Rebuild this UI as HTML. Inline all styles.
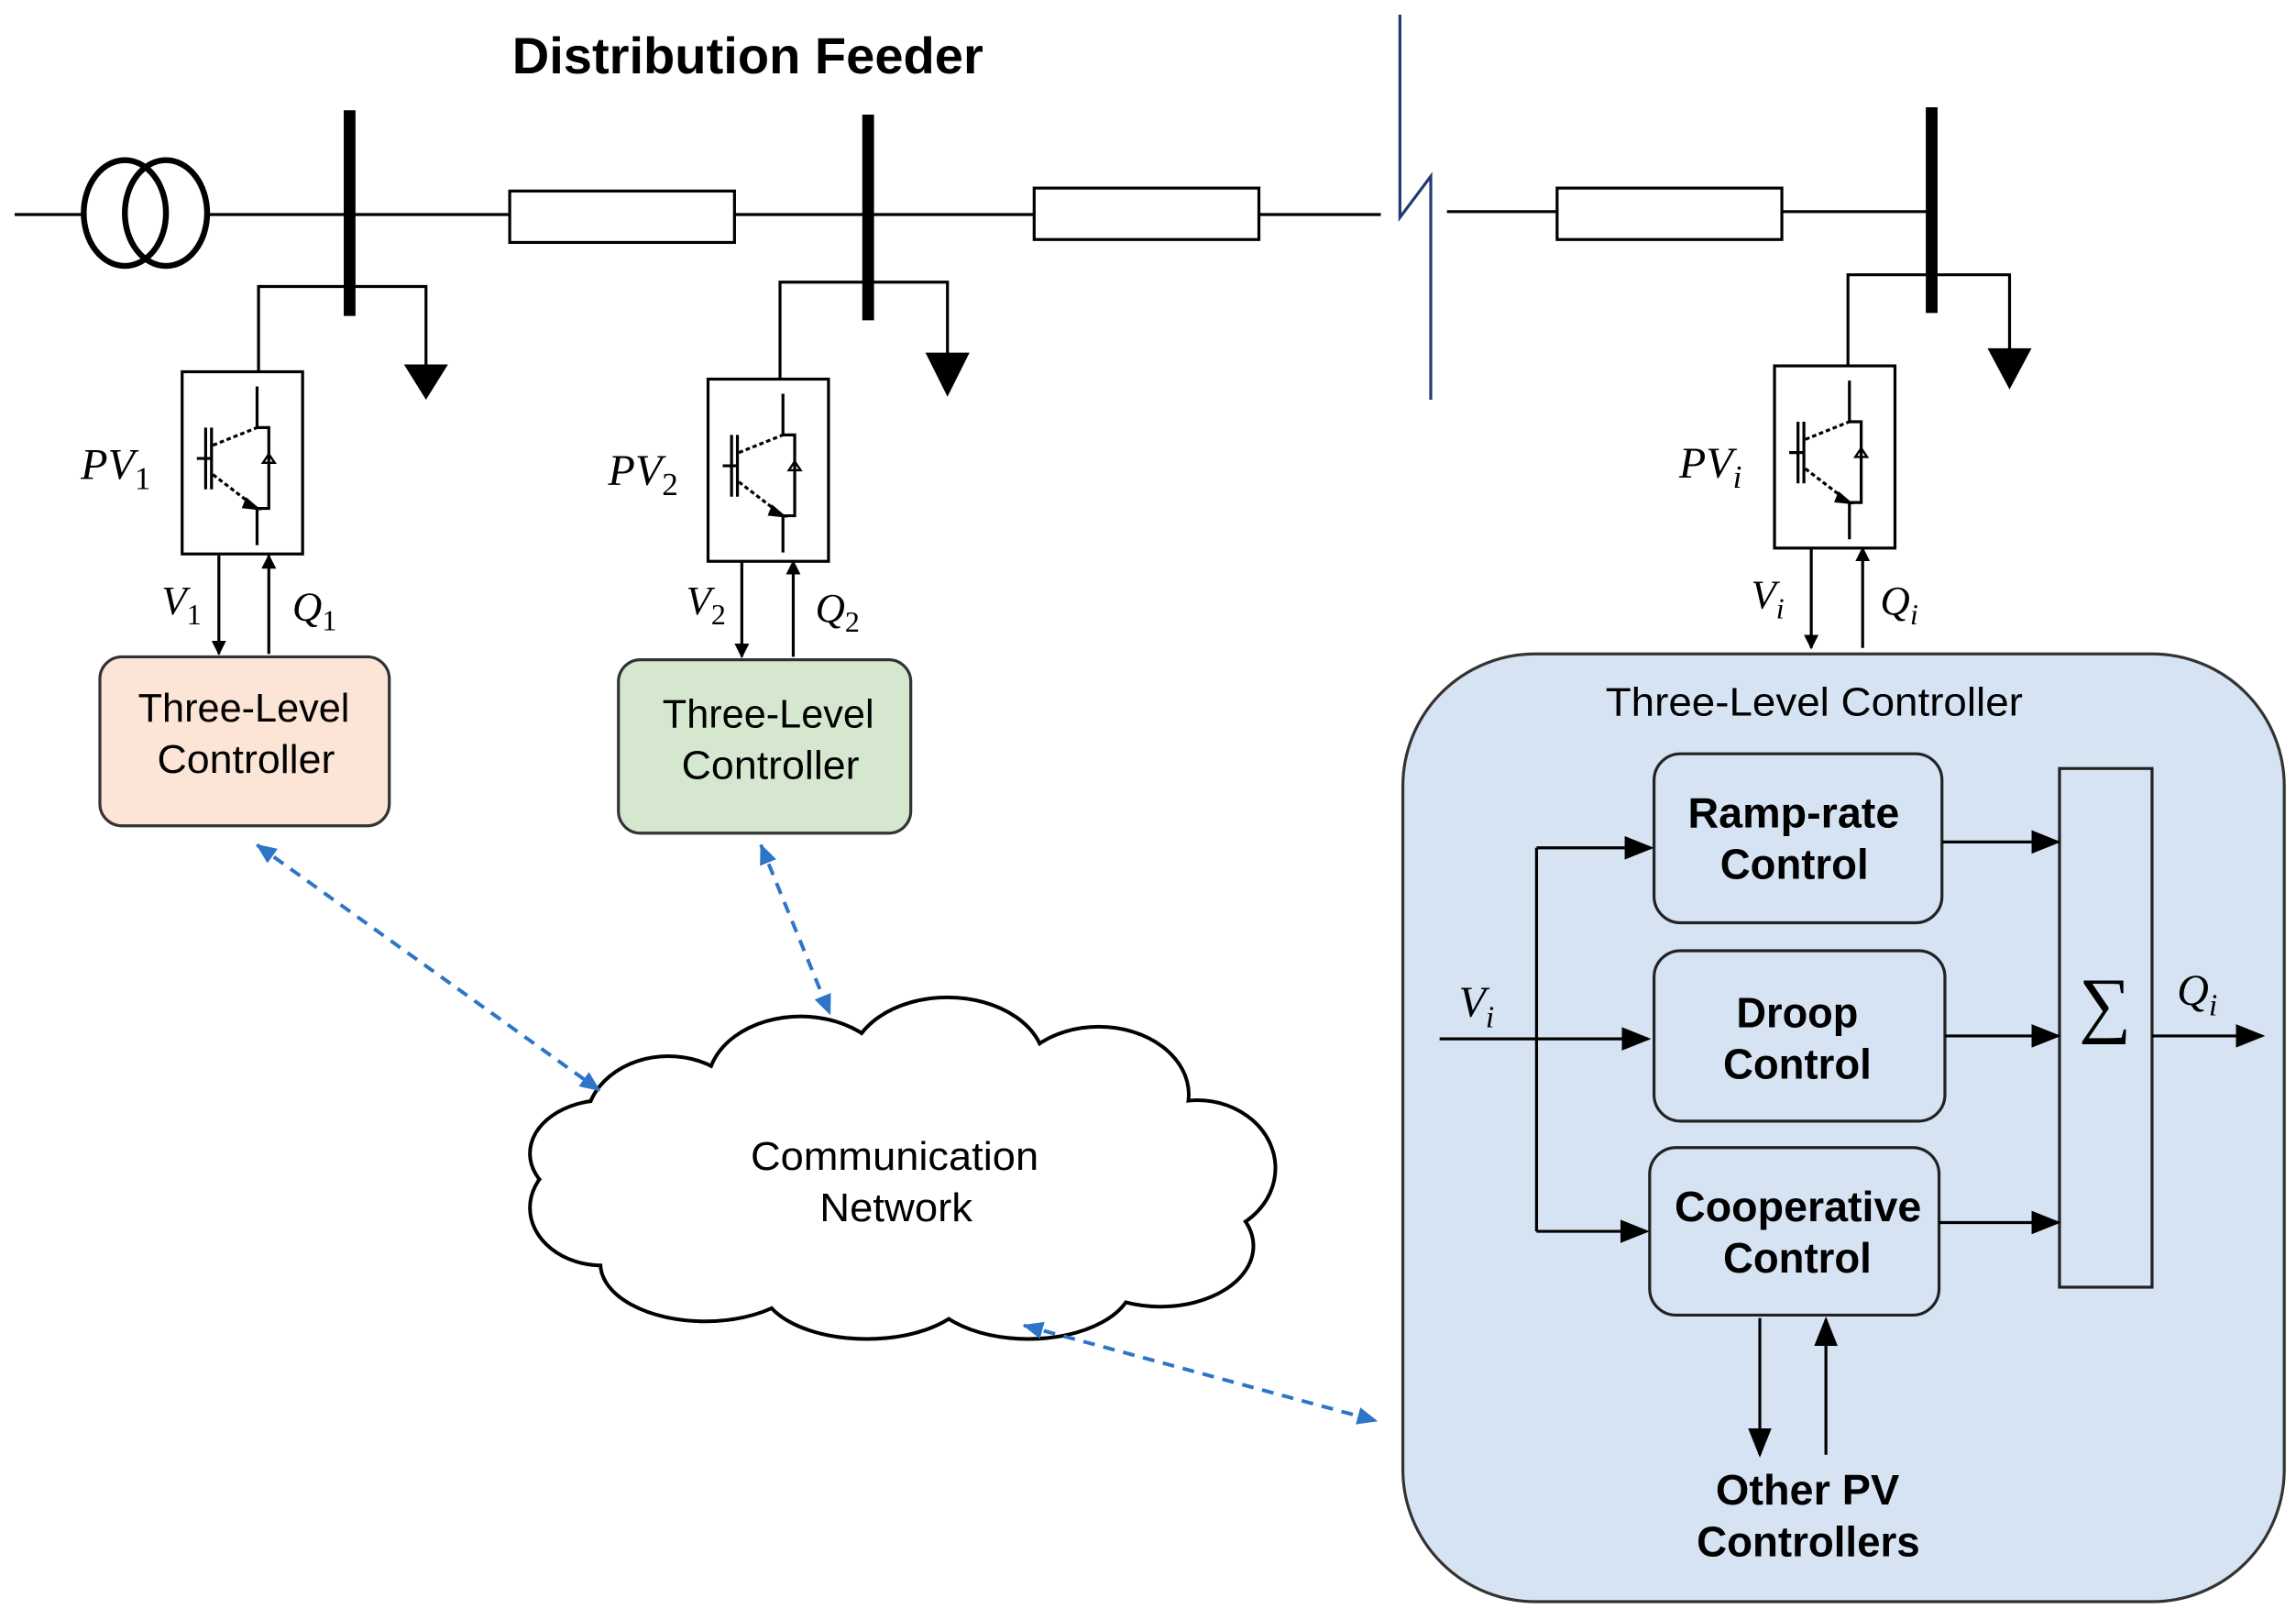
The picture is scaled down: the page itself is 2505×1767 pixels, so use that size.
<!DOCTYPE html>
<html><head><meta charset="utf-8"><style>
html,body{margin:0;padding:0;background:#fff;}
svg{display:block;}
.n{font-family:"Liberation Sans Narrow","Liberation Sans",sans-serif;}
.m{font-family:"Liberation Serif",serif;font-style:italic;}
.s{font-style:normal;}
</style></head><body>
<svg width="2505" height="1767" viewBox="0 0 1563 1102.5" preserveAspectRatio="none" xmlns="http://www.w3.org/2000/svg">
<defs>
<marker id="a" markerWidth="10" markerHeight="10" refX="9" refY="5" orient="auto" markerUnits="userSpaceOnUse"><path d="M0,0 L10,5 L0,10 z" fill="#000"/></marker>
<marker id="ab" markerWidth="20" markerHeight="16" refX="18" refY="8" orient="auto" markerUnits="userSpaceOnUse"><path d="M0,0 L20,8 L0,16 z" fill="#000"/></marker>
<marker id="bl" markerWidth="14" markerHeight="12" refX="13" refY="6" orient="auto-start-reverse" markerUnits="userSpaceOnUse"><path d="M0,0 L14,6 L0,12 z" fill="#2e75c8"/></marker>
<g id="igbt" fill="none" stroke="#000" stroke-width="2">
<rect x="0" y="0" width="82" height="124"/>
<path d="M51,10 V38 H59 V93 H51 V118"/>
<path d="M16,38 V80 M20,38 V80 M10,59 H20"/>
<path d="M21,50 L51,38 M21,70 L51,93" stroke-dasharray="3,2"/>
<path d="M44,87 L51,93 L42,92 z" fill="#000"/>
<path d="M55,62 H63 L59,56 z" stroke-width="1.5"/>
</g>
</defs>
<rect width="1563" height="1102.5" fill="#fff"/>
<text x="509" y="50" font-family="Liberation Sans,sans-serif" font-weight="bold" font-size="35" text-anchor="middle">Distribution Feeder</text>
<g stroke="#000" stroke-width="2" fill="none">
<line x1="10" y1="146" x2="58" y2="146"/>
<line x1="140" y1="146" x2="347" y2="146"/>
<line x1="500" y1="146" x2="704" y2="146"/>
<line x1="857" y1="146" x2="940" y2="146"/>
<line x1="985" y1="144" x2="1060" y2="144"/>
<line x1="1213" y1="144" x2="1315" y2="144"/>
<rect x="347" y="130" width="153" height="35"/>
<rect x="704" y="128" width="153" height="35"/>
<rect x="1060" y="128" width="153" height="35"/>
<ellipse cx="85" cy="145" rx="28" ry="36" stroke-width="4"/>
<ellipse cx="113" cy="145" rx="28" ry="36" stroke-width="4"/>
<polyline points="953,10 953,148 974,120 974,272" stroke="#1f3b73" stroke-width="2"/>
</g>
<g stroke="#000" stroke-width="8">
<line x1="238" y1="75" x2="238" y2="215"/>
<line x1="591" y1="78" x2="591" y2="218"/>
<line x1="1315" y1="73" x2="1315" y2="213"/>
</g>
<g stroke="#000" stroke-width="2" fill="none">
<polyline points="176,253 176,195 290,195 290,250"/>
<polyline points="531,258 531,192 645,192 645,242"/>
<polyline points="1258,249 1258,187 1368,187 1368,238"/>
</g>
<g fill="#000">
<path d="M275,248 L305,248 L290,272 z"/>
<path d="M630,240 L660,240 L645,270 z"/>
<path d="M1353,237 L1383,237 L1368,265 z"/>
</g>
<use href="#igbt" x="124" y="253"/>
<use href="#igbt" x="482" y="258"/>
<use href="#igbt" x="1208" y="249"/>
<g class="m" font-size="30">
<text x="55" y="326">PV<tspan class="s" font-size="22" dy="7">1</tspan></text>
<text x="414" y="330">PV<tspan class="s" font-size="22" dy="7">2</tspan></text>
<text x="1143" y="325">PV<tspan font-size="22" dy="7">i</tspan></text>
<text x="110" y="418" font-size="28">V<tspan class="s" font-size="20" dy="7">1</tspan></text>
<text x="199" y="422" font-size="28">Q<tspan class="s" font-size="20" dy="7">1</tspan></text>
<text x="467" y="418" font-size="28">V<tspan class="s" font-size="20" dy="7">2</tspan></text>
<text x="555" y="423" font-size="28">Q<tspan class="s" font-size="20" dy="7">2</tspan></text>
<text x="1192" y="414" font-size="28">V<tspan font-size="20" dy="7">i</tspan></text>
<text x="1280" y="418" font-size="28">Q<tspan font-size="20" dy="7">i</tspan></text>
</g>
<g stroke="#000" stroke-width="2" marker-end="url(#a)">
<line x1="149" y1="378" x2="149" y2="445"/>
<line x1="183" y1="445" x2="183" y2="378"/>
<line x1="505" y1="382" x2="505" y2="447"/>
<line x1="540" y1="447" x2="540" y2="382"/>
<line x1="1233" y1="373" x2="1233" y2="441"/>
<line x1="1268" y1="441" x2="1268" y2="373"/>
</g>
<rect x="68" y="447" width="197" height="115" rx="15" fill="#fce4d6" stroke="#333" stroke-width="2"/>
<g class="n" font-size="27">
<text x="94" y="491" textLength="144" lengthAdjust="spacingAndGlyphs">Three-Level</text>
<text x="107" y="526" textLength="121" lengthAdjust="spacingAndGlyphs">Controller</text>
</g>
<rect x="421" y="449" width="199" height="118" rx="15" fill="#d5e8cf" stroke="#333" stroke-width="2"/>
<g class="n" font-size="27">
<text x="451" y="495" textLength="144" lengthAdjust="spacingAndGlyphs">Three-Level</text>
<text x="464" y="530" textLength="121" lengthAdjust="spacingAndGlyphs">Controller</text>
</g>
<g stroke="#000" stroke-width="5" fill="#000">
<ellipse cx="455" cy="765" rx="55" ry="45"/><ellipse cx="545" cy="738" rx="62" ry="45"/><ellipse cx="645" cy="725" rx="65" ry="45"/><ellipse cx="748" cy="745" rx="60" ry="45"/><ellipse cx="815" cy="795" rx="52" ry="45"/><ellipse cx="790" cy="848" rx="62" ry="40"/><ellipse cx="700" cy="872" rx="70" ry="38"/><ellipse cx="590" cy="875" rx="70" ry="35"/><ellipse cx="480" cy="860" rx="70" ry="38"/><ellipse cx="410" cy="822" rx="48" ry="38"/><ellipse cx="412" cy="785" rx="50" ry="35"/>
</g>
<g fill="#fff">
<ellipse cx="455" cy="765" rx="55" ry="45"/><ellipse cx="545" cy="738" rx="62" ry="45"/><ellipse cx="645" cy="725" rx="65" ry="45"/><ellipse cx="748" cy="745" rx="60" ry="45"/><ellipse cx="815" cy="795" rx="52" ry="45"/><ellipse cx="790" cy="848" rx="62" ry="40"/><ellipse cx="700" cy="872" rx="70" ry="38"/><ellipse cx="590" cy="875" rx="70" ry="35"/><ellipse cx="480" cy="860" rx="70" ry="38"/><ellipse cx="410" cy="822" rx="48" ry="38"/><ellipse cx="412" cy="785" rx="50" ry="35"/><ellipse cx="612" cy="805" rx="200" ry="75"/>
</g>
<g class="n" font-size="27">
<text x="511" y="796" textLength="196" lengthAdjust="spacingAndGlyphs">Communication</text>
<text x="558" y="831" textLength="104" lengthAdjust="spacingAndGlyphs">Network</text>
</g>
<g stroke="#2e75c8" stroke-width="2.5" stroke-dasharray="8,6" marker-start="url(#bl)" marker-end="url(#bl)">
<line x1="175" y1="575" x2="408" y2="742"/>
<line x1="518" y1="575" x2="565" y2="690"/>
<line x1="697" y1="902" x2="937" y2="967"/>
</g>
<rect x="955" y="445" width="600" height="645" rx="90" fill="#d6e3f3" stroke="#333" stroke-width="2"/>
<text x="1093" y="487" class="n" font-size="27" textLength="284" lengthAdjust="spacingAndGlyphs">Three-Level  Controller</text>
<g fill="#d6e3f3" stroke="#222" stroke-width="2">
<rect x="1126" y="513" width="196" height="115" rx="18"/>
<rect x="1126" y="647" width="198" height="116" rx="18"/>
<rect x="1123" y="781" width="197" height="114" rx="18"/>
<rect x="1402" y="523" width="63" height="353"/>
</g>
<g class="n" font-size="29" font-weight="bold">
<text x="1149" y="563" textLength="144" lengthAdjust="spacingAndGlyphs">Ramp-rate</text>
<text x="1171" y="598" textLength="101" lengthAdjust="spacingAndGlyphs">Control</text>
<text x="1182" y="699" textLength="83" lengthAdjust="spacingAndGlyphs">Droop</text>
<text x="1173" y="734" textLength="101" lengthAdjust="spacingAndGlyphs">Control</text>
<text x="1140" y="831" textLength="168" lengthAdjust="spacingAndGlyphs">Cooperative</text>
<text x="1173" y="866" textLength="101" lengthAdjust="spacingAndGlyphs">Control</text>
<text x="1168" y="1024" textLength="125" lengthAdjust="spacingAndGlyphs">Other PV</text>
<text x="1155" y="1059" textLength="152" lengthAdjust="spacingAndGlyphs">Controllers</text>
</g>
<text x="1433" y="700" font-family="Liberation Serif,serif" font-size="50" text-anchor="middle">∑</text>
<text x="993" y="692" class="m" font-size="30">V<tspan font-size="21" dy="7">i</tspan></text>
<text x="1482" y="684" class="m" font-size="30">Q<tspan font-size="21" dy="7">i</tspan></text>
<line x1="1046" y1="577" x2="1046" y2="838" stroke="#000" stroke-width="2"/>
<g stroke="#000" stroke-width="2" marker-end="url(#ab)">
<line x1="980" y1="707" x2="1122" y2="707"/>
<line x1="1046" y1="577" x2="1124" y2="577"/>
<line x1="1046" y1="838" x2="1121" y2="838"/>
<line x1="1322" y1="573" x2="1401" y2="573"/>
<line x1="1324" y1="705" x2="1401" y2="705"/>
<line x1="1320" y1="832" x2="1401" y2="832"/>
<line x1="1465" y1="705" x2="1540" y2="705"/>
<line x1="1198" y1="897" x2="1198" y2="990"/>
<line x1="1243" y1="990" x2="1243" y2="898"/>
</g>
</svg>
</body></html>
